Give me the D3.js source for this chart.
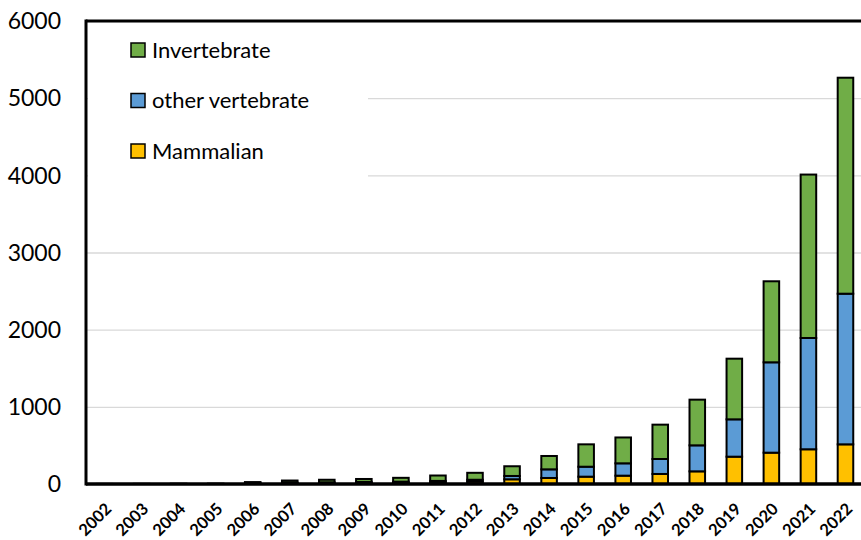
<!DOCTYPE html>
<html>
<head>
<meta charset="utf-8">
<script src="https://cdn.jsdelivr.net/npm/d3@7"></script>
<style>
  body { margin: 0; background: #fff; }
  text { font-family: Lato, "Open Sans", sans-serif; }
</style>
</head>
<body>
<div id="chart"></div>
<script>
// data
var years = ["2002", "2003", "2004", "2005", "2006", "2007", "2008", "2009", "2010", "2011", "2012",
    "2013", "2014", "2015", "2016", "2017", "2018", "2019", "2020", "2021", "2022"];
var mammalian = [0, 0, 0, 0, 5, 8, 10, 12, 15, 20, 30, 61, 78, 95, 108, 130, 164, 354, 406, 450, 514];
var otherVertebrate = [0, 0, 1, 1, 5, 10, 12, 15, 15, 20, 25, 43, 112, 129, 160, 194, 337, 484, 1171, 1442, 1952];
var invertebrate = [1, 2, 2, 3, 15, 27, 33, 38, 50, 70, 90, 126, 173, 290, 335, 445, 592, 786, 1050, 2118, 2799];
var yTicks = [0, 1000, 2000, 3000, 4000, 5000, 6000];
var seriesNames = ["Mammalian", "other vertebrate", "Invertebrate"];
var seriesColors = ["#FFC000", "#5B9BD5", "#70AD47"];

// set the dimensions and margins of the graph
var margin = { top: 21, right: -3, bottom: 56, left: 86 },
    width = 861 - margin.left - margin.right,
    height = 540 - margin.top - margin.bottom;

var svg = d3.select("#chart")
    .append("svg")
    .attr("width", 861)
    .attr("height", 540)
    .append("g")
    .attr("transform", "translate(" + margin.left + "," + margin.top + ")");

// build rows for the stack
var rows = years.map(function (y, i) {
    return { year: y, "Mammalian": mammalian[i], "other vertebrate": otherVertebrate[i], "Invertebrate": invertebrate[i] };
});
var stacked = d3.stack().keys(seriesNames)(rows);

var x = d3.scaleBand()
    .domain(years)
    .range([0, width])
    .paddingInner(0.58)
    .paddingOuter(0.29);

var y = d3.scaleLinear()
    .domain([0, 6000])
    .range([height, 0]);

var color = d3.scaleOrdinal().domain(seriesNames).range(seriesColors);

// gridlines
svg.append("g")
    .attr("class", "grid")
    .call(d3.axisLeft(y).tickValues(yTicks).tickSize(-width).tickFormat(""))
    .call(function (g) { g.select(".domain").remove(); })
    .selectAll("line")
    .attr("stroke", "#d9d9d9")
    .attr("stroke-width", 1.3);

// y labels
svg.selectAll(".ylab")
    .data(yTicks)
    .enter()
    .append("text")
    .attr("class", "ylab")
    .attr("x", -25)
    .attr("y", function (d) { return y(d); })
    .attr("dy", "0.36em")
    .attr("text-anchor", "end")
    .style("font-size", "23px")
    .style("fill", "#000")
    .text(function (d) { return d; });

// legend box covers the gridlines
svg.append("rect")
    .attr("x", 2)
    .attr("y", 2)
    .attr("width", 280)
    .attr("height", 156)
    .attr("fill", "#fff");

// the bars
svg.selectAll(".layer")
    .data(stacked)
    .enter()
    .append("g")
    .attr("class", "layer")
    .attr("fill", function (d) { return color(d.key); })
    .selectAll("rect")
    .data(function (d) { return d; })
    .enter()
    .append("rect")
    .attr("x", function (d) { return x(d.data.year); })
    .attr("y", function (d) { return y(d[1]); })
    .attr("width", x.bandwidth())
    .attr("height", function (d) { return y(d[0]) - y(d[1]); })
    .attr("stroke", "#000")
    .attr("stroke-width", 2);

// axis frame lines
svg.append("line")
    .attr("x1", 0).attr("x2", width + 5)
    .attr("y1", height).attr("y2", height)
    .attr("stroke", "#000").attr("stroke-width", 3.5);
svg.append("line")
    .attr("x1", 0).attr("x2", 0)
    .attr("y1", -1.5).attr("y2", height + 1.5)
    .attr("stroke", "#000").attr("stroke-width", 3);
svg.append("line")
    .attr("x1", 0).attr("x2", width + 5)
    .attr("y1", 0).attr("y2", 0)
    .attr("stroke", "#000").attr("stroke-width", 3);

// x labels
svg.selectAll(".xlab")
    .data(years)
    .enter()
    .append("text")
    .attr("class", "xlab")
    .attr("transform", function (d) {
        return "translate(" + (x(d) + x.bandwidth() / 2 + 8) + "," + (height + 26) + ") rotate(-45)";
    })
    .attr("text-anchor", "end")
    .style("font-size", "16.5px")
    .style("font-weight", "bold")
    .text(function (d) { return d; });

// legend
var legendOrder = ["Invertebrate", "other vertebrate", "Mammalian"];
var legend = svg.selectAll(".legend")
    .data(legendOrder)
    .enter()
    .append("g")
    .attr("class", "legend")
    .attr("transform", function (d, i) { return "translate(45," + (29 + i * 50.5) + ")"; });

legend.append("rect")
    .attr("x", 0)
    .attr("y", -7)
    .attr("width", 14)
    .attr("height", 14)
    .attr("fill", function (d) { return color(d); })
    .attr("stroke", "#000")
    .attr("stroke-width", 1.5);

legend.append("text")
    .attr("x", 21)
    .attr("y", 0)
    .attr("dy", "0.35em")
    .style("font-size", "22px")
    .text(function (d) { return d; });
</script>
</body>
</html>
